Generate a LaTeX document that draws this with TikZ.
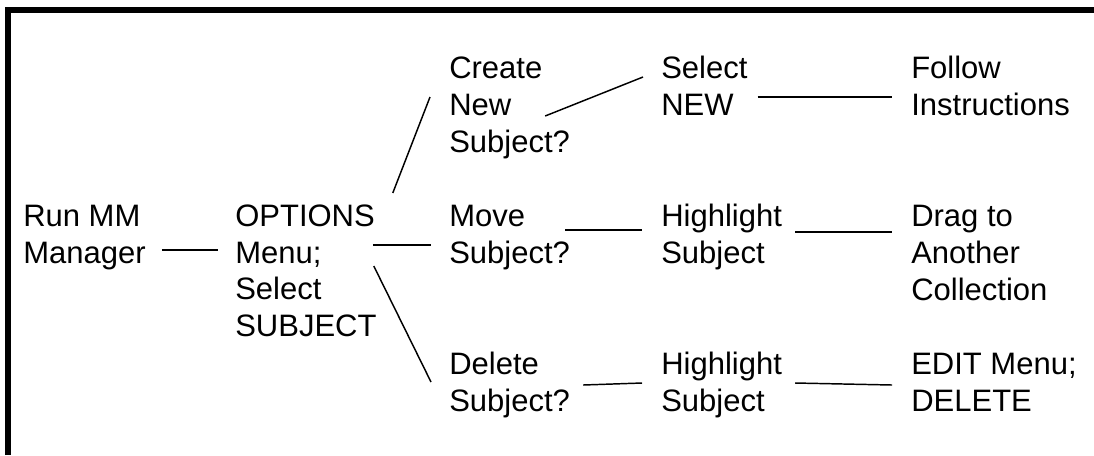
\documentclass[tikz,border=0pt]{standalone}
\usepackage{fontspec}
\setmainfont{Liberation Sans}
\usetikzlibrary{positioning,calc}

\begin{document}
\begin{tikzpicture}[
  x=0.75pt, y=-0.75pt,
  font=\fontsize{23.25pt}{27.4pt}\selectfont,
  txt/.style={align=left, inner sep=0pt, anchor=base west},
  link/.style={line width=1.1pt},
  frame/.style={line width=4.9pt, line join=miter},
]
\useasboundingbox (0,0) rectangle (1094,455);
\draw[frame] (8,455) -- (8,10) -- (1094,10);
\node[txt] (run) at (23,263.5) {Run MM\\Manager};
\node[txt] (opt) at (235,336.5) {OPTIONS\\Menu;\\Select\\SUBJECT};
\node[txt] (create) at (449,152) {Create\\New\\Subject?};
\node[txt] (move) at (449,263.5) {Move\\Subject?};
\node[txt] (delete) at (449,411.5) {Delete\\Subject?};
\node[txt] (selnew) at (661,115.5) {Select\\NEW};
\node[txt] (hlmove) at (661,263.5) {Highlight\\Subject};
\node[txt] (hldel) at (661,411.5) {Highlight\\Subject};
\node[txt] (follow) at (911,115.5) {Follow\\Instructions};
\node[txt] (drag) at (911,300) {Drag to\\Another\\Collection};
\node[txt] (edit) at (911,411.5) {EDIT Menu;\\DELETE};
\draw[link] ([shift={(16,-13.5)}]run.base east) -- ([shift={(-17,-86.5)}]opt.base west);
\draw[link] ([shift={(16,-143.5)}]opt.base east) -- ([shift={(-19,-55)}]create.base west);
\draw[link] ([shift={(-4,-91.5)}]opt.base east) -- ([shift={(-18,-18.5)}]move.base west);
\draw[link] ([shift={(-3,-70.5)}]opt.base east) -- ([shift={(-18,-29.5)}]delete.base west);
\draw[link] ([shift={(-25,-36)}]create.base east) -- ([shift={(-18,-38.5)}]selnew.base west);
\draw[link] ([shift={(10,-18.5)}]selnew.base east) -- ([shift={(-19,-18.5)}]follow.base west);
\draw[link] ([shift={(-5,-33.5)}]move.base east) -- ([shift={(-19,-33.5)}]hlmove.base west);
\draw[link] ([shift={(13,-31.5)}]hlmove.base east) -- ([shift={(-19,-68)}]drag.base west);
\draw[link] ([shift={(13,-26.5)}]delete.base east) -- ([shift={(-19,-28.5)}]hldel.base west);
\draw[link] ([shift={(13,-28.5)}]hldel.base east) -- ([shift={(-19,-26.5)}]edit.base west);
\end{tikzpicture}
\end{document}
